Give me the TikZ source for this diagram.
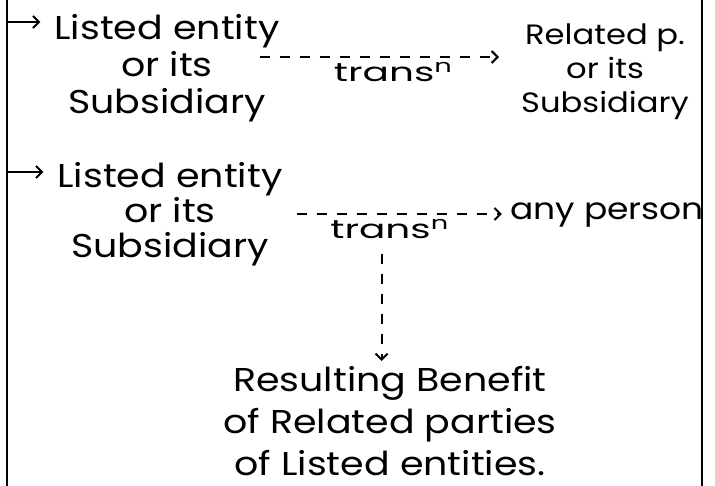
\documentclass[tikz,border=0pt]{standalone}
\usepackage{fontspec}
\setmainfont[FakeStretch=1.15]{Poppins}
\newfontfamily\transfont[FakeStretch=1.5]{Poppins}
\usetikzlibrary{arrows.meta}
\tikzset{txt/.style={align=center, inner sep=2pt}}
\tikzset{dasharrow/.style={line width=2pt, dash pattern=on 10pt off 10pt, -{Straight Barb[length=6pt,width=12pt]}}}

\begin{document}
\begin{tikzpicture}
[x=1pt, y=-1pt, wall/.style={line width=2.5pt}, ptr/.style={line width=2pt, -{Straight Barb[length=6pt,width=12pt]}},
 lbl/.style={font=\transfont\fontsize{26}{26}\selectfont, inner sep=1pt}]
\useasboundingbox (0,0) rectangle (715,486);
\draw[wall] (7,0) -- (7,486);
\draw[wall] (702,0) -- (702,486);
\coordinate (b1) at (7,22);
\coordinate (b2) at (7,172);

\node (le1) at (167,68)[txt, font=\fontsize{33}{37}\selectfont]{Listed entity\\or its\\Subsidiary};
\node (rp1) at (605,72)[txt, font=\fontsize{28}{34}\selectfont]{Related p.\\or its\\Subsidiary};
\node (le2) at (170,214)[txt, font=\fontsize{33}{35}\selectfont]{Listed entity\\or its\\Subsidiary};
\node (ap) at (607,215)[txt, font=\fontsize{30}{34}\selectfont]{any person};
\node (rb) at (390,421)[txt, font=\fontsize{33}{42}\selectfont]{Resulting Benefit\\of Related parties\\of Listed entities.};

\draw[ptr, shorten >=12pt] (b1) -- (b1 -| le1.west);
\draw[ptr, shorten >=12pt] (b2) -- (b2 -| le2.west);

\draw[dasharrow, shorten <=-22pt, shorten >=20pt] ([yshift=11pt]le1.east) -- ([yshift=15pt]rp1.west)
  node[lbl, below, pos=.47, yshift=-3pt] (tr1) {trans\textsuperscript{n}};
\draw[dasharrow, shorten <=12pt, shorten >=6pt] (le2.east) -- (le2.east -| ap.west)
  node[lbl, below, pos=.47, yshift=-3pt] (tr2) {trans\textsuperscript{n}};
\coordinate (vtop) at ([xshift=-8pt]tr2.south);
\draw[dasharrow, shorten <=14pt, shorten >=3pt] (vtop) -- (vtop |- rb.north);
\end{tikzpicture}
\end{document}
